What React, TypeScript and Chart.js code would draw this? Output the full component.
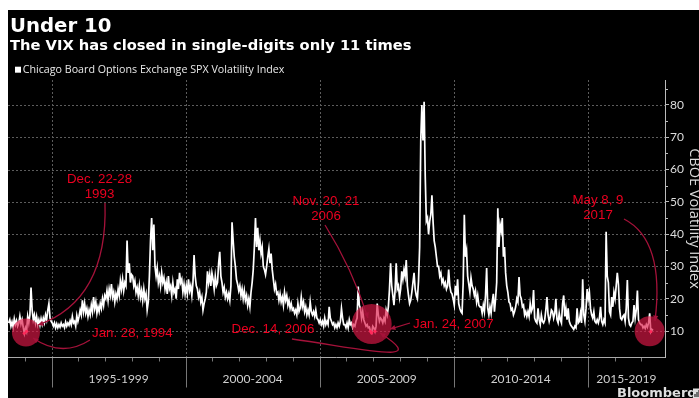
import React, { useEffect, useRef } from "react";
import { Chart, registerables } from "chart.js";

Chart.register(...registerables);

// ---- Data: VIX closes, sampled twice a month (high / low of each half-month, read off the chart) ----
// 1993 starts at the second half of May (half-month index 9)
const vix1993 = [12.5, 13.5, 11.5, 12.8, 11.2, 13.8, 12, 13.2, 11.5, 12.4, 14.6, 12.2, 13.5, 11.2, 9.3];
const vix1994 = [11, 9.9, 14.5, 12.5, 15, 23.5, 16.5, 13.5, 15, 12.5, 14.5, 12, 13.5, 11.8, 13.8, 12.2, 14, 12.6, 15, 13.5, 16.5, 18.5, 14, 13];
const vix1995 = [12.5, 11.5, 12.5, 11, 12.2, 11, 12, 11.2, 12.5, 11.5, 12, 11, 12.8, 11.5, 12.5, 11.8, 13.2, 12, 14.5, 12.5, 13, 11.5, 14.8, 13];
const vix1996 = [14.5, 16.5, 15, 19.5, 16, 18.5, 15.5, 17, 14.5, 16.5, 15, 18, 16, 20.5, 17, 19, 15.5, 17.5, 16, 18.5, 17, 20, 18, 21];
const vix1997 = [20, 22.5, 19.5, 23, 21, 24.5, 20.5, 22, 19, 21.5, 20, 23, 21, 25.5, 23, 26, 22.5, 25, 24, 38, 28, 31, 25, 27.5];
const vix1998 = [27, 24, 25.5, 22, 23.5, 21, 24, 20.5, 22.5, 19.5, 23, 20, 21.5, 16.5, 19, 27, 38, 45, 35, 43, 30, 27, 29.5, 25];
const vix1999 = [27, 24, 28, 25, 26.5, 23, 25, 21.5, 27, 23, 24, 21, 25, 22, 23, 20, 26, 23, 28, 25, 26, 22, 24.5, 21.5];
const vix2000 = [24, 21.5, 26, 22.5, 24, 21, 25, 33.5, 27, 24, 23, 20.5, 22, 19, 20.5, 16.5, 18.5, 20, 22, 28.5, 25, 27.5, 24, 28];
const vix2001 = [26, 23, 27, 24, 25, 31, 34.5, 27, 25, 22, 23.5, 20.5, 22, 20, 21.5, 19.5, 24, 43.7, 38, 33, 30, 26, 24.5, 22.5];
const vix2002 = [24, 21, 23, 20, 22.5, 19.5, 21, 18, 20, 17.5, 22, 25, 29, 36, 45, 36, 42, 35, 38, 34, 36, 30, 29, 27.5];
const vix2003 = [30, 33, 35.5, 31, 34, 29, 26, 23, 24.5, 21.5, 22, 19.5, 21.5, 19, 20.5, 18, 22, 19.5, 21, 18, 19.5, 17, 18.5, 16.5];
const vix2004 = [17, 15.5, 16.5, 15, 18.5, 16, 17, 20.5, 17.5, 19, 16, 17.5, 15, 16.5, 15, 19, 16, 15, 16, 14.5, 16.5, 14, 13.5, 12.5];
const vix2005 = [13.5, 12, 13, 11.5, 14, 12, 13, 12, 17.5, 14, 13, 12, 12.5, 11, 12, 11, 12.5, 11.5, 13, 17, 14, 12, 12, 11];
const vix2006 = [12.5, 11, 13.5, 12, 12.5, 11, 12, 11.5, 13, 14, 23.8, 18, 17, 14, 16, 13.5, 12.5, 11.5, 12, 11, 11.2, 9.9, 9.4, 11.5];
const vix2007 = [11, 9.9, 11.5, 18.5, 15, 13, 14, 13.5, 12.5, 14, 13, 16.5, 15, 17.5, 23, 31, 24, 21, 18, 22.5, 31, 23, 24, 20.5];
const vix2008 = [23, 28.5, 26, 29, 27, 32, 24, 21, 18.5, 19.5, 22, 25, 28, 23, 21, 20, 25.5, 36, 69, 80, 69, 81, 58, 44];
const vix2009 = [45, 40, 44, 46, 52, 44, 38, 36, 33, 30, 30, 27, 28, 25, 26, 24, 25, 23, 24, 29, 24, 22, 21.5, 20];
const vix2010 = [18, 24, 21, 26, 18.5, 17, 16, 15.5, 25, 46, 33, 35, 27, 24.5, 22, 26.5, 24, 23, 21, 22.5, 19, 21, 18, 17.5];
const vix2011 = [17.5, 15.5, 18, 16, 21, 29.5, 17, 15, 17.5, 15.5, 19, 21.5, 16, 20, 25, 48, 36, 43, 41, 45, 33, 36, 28, 24];
const vix2012 = [22, 19, 18.5, 16.5, 17, 15, 16, 17.5, 20, 19, 26.7, 21, 20, 17.5, 18, 15, 16, 14.5, 16, 14.5, 18.5, 16, 17, 22.7];
const vix2013 = [14, 13, 12.5, 17, 13.5, 12, 15, 13, 12.5, 13.5, 16.5, 20.5, 15, 13, 14.5, 16.5, 16, 14, 15.5, 20, 13.5, 12.5, 15.5, 13.5];
const vix2014 = [12.5, 18.5, 21, 14.5, 17, 13.5, 17, 13, 12, 11.5, 11, 10.5, 11.5, 11, 17, 12.5, 13, 15.5, 12.5, 26, 15, 13, 17, 23];
const vix2015 = [20, 22, 17, 15, 14, 16, 13, 12.5, 13.5, 12.5, 14, 17.5, 13, 12, 13.5, 12.5, 40.7, 27, 25, 16, 15, 20.5, 17.5, 22];
const vix2016 = [20, 24, 28, 24.5, 17, 14, 13.5, 14.5, 15, 13, 17, 25.8, 14, 12, 11.5, 12.5, 13, 18, 14, 16.5, 22.5, 13.5, 12.5, 12];
const vix2017 = [12, 11, 11.5, 10.8, 12, 11.2, 12.5, 15.5, 9.8, 10.5, 10.2];

const yearlySeries: [number, number[]][] = [
  [1993, vix1993], [1994, vix1994], [1995, vix1995], [1996, vix1996], [1997, vix1997],
  [1998, vix1998], [1999, vix1999], [2000, vix2000], [2001, vix2001], [2002, vix2002],
  [2003, vix2003], [2004, vix2004], [2005, vix2005], [2006, vix2006], [2007, vix2007],
  [2008, vix2008], [2009, vix2009], [2010, vix2010], [2011, vix2011], [2012, vix2012],
  [2013, vix2013], [2014, vix2014], [2015, vix2015], [2016, vix2016], [2017, vix2017],
];
const firstYearOffset = 9;
const halfMonthsPerYear = 24;

// Single-digit closes (year fraction, value)
const singleDigitX = [1993.979, 1994.0625, 2006.896, 2006.9375, 2007.0625, 2017.354];
const singleDigitY = [9.3, 9.9, 9.9, 9.4, 9.9, 9.8];

// Axis / tick labels
const periodLabels = ["1995-1999", "2000-2004", "2005-2009", "2010-2014", "2015-2019"];
const periodStarts = [1995, 2000, 2005, 2010, 2015];
const yTickValues = [10, 20, 30, 40, 50, 60, 70, 80];
const yMinorTicks = [15, 25, 35, 45, 55, 65, 75, 85];
const firstYearTick = 1994;
const lastYearTick = 2017;
const xMin = 1993.37;
const xMax = 2017.884;
const yMin = 1.95;
const yMax = 87.74;

const titleText = "Under 10";
const subtitleText = "The VIX has closed in single-digits only 11 times";
const legendText = "Chicago Board Options Exchange SPX Volatility Index";
const axisTitle = "CBOE Volatility Index";

// Annotations (data coordinates)
const circleX = [1994.04, 2006.94, 2017.31];
const circleY = [9.54, 12.17, 9.9];
const circleR = [14, 20, 15];

const noteTexts = [
  { lines: ["Dec. 22-28", "1993"], x: 1996.784, y: 55.93, align: "center" },
  { lines: ["Jan. 28, 1994"], x: 1996.504, y: 8.14, align: "left" },
  { lines: ["Nov. 20, 21", "2006"], x: 2005.235, y: 49.03, align: "center" },
  { lines: ["Dec. 14, 2006"], x: 2003.257, y: 9.38, align: "center" },
  { lines: ["Jan. 24, 2007"], x: 2008.481, y: 10.93, align: "left" },
  { lines: ["May 8, 9", "2017"], x: 2015.384, y: 49.34, align: "center" },
];

const noteArrows: number[][][] = [
  [[1996.989, 49.65], [1997.1, 19.6], [1994.489, 11.86]],
  [[1996.429, 7.21], [1995.384, 1.64], [1994.302, 7.83]],
  [[2005.198, 42.83], [2006.205, 29.51], [2006.802, 14.03]],
  [[2003.966, 7.52], [2006.877, 4.12], [2009.116, -0.53], [2007.25, 9.38]],
  [[2008.37, 12.48], [2007.623, 10.62]],
  [[2016.354, 44.69], [2017.884, 38.19], [2017.511, 13.1]],
];

function buildPoints() {
  const pts: { x: number; y: number }[] = [];
  for (const [yr, vals] of yearlySeries) {
    const offset = yr === yearlySeries[0][0] ? firstYearOffset : 0;
    vals.forEach((v, i) => pts.push({ x: yr + (offset + i + 0.5) / halfMonthsPerYear, y: v }));
  }
  return pts;
}

const RED_TEXT = "#ec0020";
const ARROW = "#a5123a";

function arrowHead(ctx: CanvasRenderingContext2D, fx: number, fy: number, tx: number, ty: number) {
  const ang = Math.atan2(ty - fy, tx - fx);
  const s = 6;
  ctx.beginPath();
  ctx.moveTo(tx, ty);
  ctx.lineTo(tx - s * Math.cos(ang - 0.45), ty - s * Math.sin(ang - 0.45));
  ctx.lineTo(tx - s * Math.cos(ang + 0.45), ty - s * Math.sin(ang + 0.45));
  ctx.closePath();
  ctx.fill();
}

const decorPlugin = {
  id: "decor",
  beforeDraw(chart: any) {
    const { ctx, width, height } = chart;
    ctx.save();
    ctx.fillStyle = "#000";
    ctx.fillRect(0, 0, width, height);
    ctx.restore();
  },
  beforeDatasetsDraw(chart: any) {
    const { ctx, chartArea: a, scales } = chart;
    const x = scales.x;
    const y = scales.y;
    ctx.save();
    ctx.lineWidth = 1;
    ctx.strokeStyle = "#5c5c5c";
    ctx.setLineDash([2, 2]);
    for (const v of yTickValues) {
      const py = Math.round(y.getPixelForValue(v)) + 0.5;
      ctx.beginPath();
      ctx.moveTo(a.left, py);
      ctx.lineTo(a.right, py);
      ctx.stroke();
    }
    for (const s of periodStarts) {
      const px = Math.round(x.getPixelForValue(s)) + 0.5;
      ctx.beginPath();
      ctx.moveTo(px, a.top);
      ctx.lineTo(px, a.bottom);
      ctx.stroke();
    }
    ctx.setLineDash([]);
    const by = Math.round(a.bottom) + 0.5;
    ctx.strokeStyle = "#777";
    for (const s of periodStarts) {
      const px = Math.round(x.getPixelForValue(s)) + 0.5;
      ctx.beginPath();
      ctx.moveTo(px, by);
      ctx.lineTo(px, by + 30);
      ctx.stroke();
    }
    for (let yr = firstYearTick; yr <= lastYearTick; yr++) {
      const px = Math.round(x.getPixelForValue(yr)) + 0.5;
      ctx.beginPath();
      ctx.moveTo(px, by);
      ctx.lineTo(px, by + 4);
      ctx.stroke();
    }
    ctx.strokeStyle = "#aaa";
    ctx.beginPath();
    ctx.moveTo(a.left, by);
    ctx.lineTo(a.right, by);
    ctx.stroke();
    ctx.strokeStyle = "#bbb";
    const rx = Math.round(a.right) + 0.5;
    for (const v of yMinorTicks) {
      const py = Math.round(y.getPixelForValue(v)) + 0.5;
      if (py < a.top) continue;
      ctx.beginPath();
      ctx.moveTo(rx, py);
      ctx.lineTo(rx + 2.5, py);
      ctx.stroke();
    }
    ctx.fillStyle = "#cfcfcf";
    ctx.font = "12px Lato";
    ctx.textAlign = "center";
    ctx.textBaseline = "alphabetic";
    periodStarts.forEach((s, i) => {
      const l = Math.max(s, xMin);
      const r = Math.min(s + 5, xMax);
      ctx.fillText(periodLabels[i], (x.getPixelForValue(l) + x.getPixelForValue(r)) / 2, a.bottom + 26);
    });
    ctx.restore();
  },
  afterDatasetsDraw(chart: any) {
    const { ctx, scales } = chart;
    const x = scales.x;
    const y = scales.y;
    const P = (p: number[]) => [x.getPixelForValue(p[0]), y.getPixelForValue(p[1])];
    ctx.save();
    // circles
    ctx.fillStyle = "rgba(222, 24, 72, 0.66)";
    circleX.forEach((cx, i) => {
      ctx.beginPath();
      ctx.arc(x.getPixelForValue(cx), y.getPixelForValue(circleY[i]), circleR[i], 0, Math.PI * 2);
      ctx.fill();
    });
    ctx.fillStyle = "#ff2a5a";
    singleDigitX.forEach((dx, i) => {
      ctx.beginPath();
      ctx.arc(x.getPixelForValue(dx), y.getPixelForValue(singleDigitY[i]), 1.6, 0, Math.PI * 2);
      ctx.fill();
    });
    // arrows
    ctx.strokeStyle = ARROW;
    ctx.fillStyle = ARROW;
    ctx.lineWidth = 1.3;
    for (const arr of noteArrows) {
      const pts = arr.map(P);
      ctx.beginPath();
      ctx.moveTo(pts[0][0], pts[0][1]);
      if (pts.length === 2) ctx.lineTo(pts[1][0], pts[1][1]);
      else if (pts.length === 3) ctx.quadraticCurveTo(pts[1][0], pts[1][1], pts[2][0], pts[2][1]);
      else ctx.bezierCurveTo(pts[1][0], pts[1][1], pts[2][0], pts[2][1], pts[3][0], pts[3][1]);
      ctx.stroke();
      const e = pts[pts.length - 1];
      const f = pts[pts.length - 2];
      arrowHead(ctx, f[0], f[1], e[0], e[1]);
    }
    // texts
    ctx.fillStyle = RED_TEXT;
    ctx.font = '13.3px "Liberation Sans"';
    ctx.textBaseline = "alphabetic";
    for (const n of noteTexts) {
      ctx.textAlign = n.align as CanvasTextAlign;
      const px = x.getPixelForValue(n.x);
      const py = y.getPixelForValue(n.y);
      n.lines.forEach((ln, i) => ctx.fillText(ln, px, py + i * 15.3));
    }
    ctx.restore();
  },
  afterDraw(chart: any) {
    const { ctx, chartArea: a } = chart;
    ctx.save();
    ctx.fillStyle = "#fff";
    ctx.textAlign = "left";
    ctx.textBaseline = "alphabetic";
    ctx.font = 'bold 19.7px "DejaVu Sans"';
    ctx.fillText(titleText, 2, 21.7);
    ctx.font = 'bold 14.7px "DejaVu Sans"';
    ctx.fillText(subtitleText, 2, 39.6);
    ctx.fillRect(7, 56.7, 6, 6);
    ctx.fillStyle = "#e8e8e8";
    ctx.font = '10.7px "Open Sans"';
    ctx.fillText(legendText, 14.7, 63);
    // axis title
    ctx.save();
    ctx.translate(682, (a.top + a.bottom) / 2);
    ctx.rotate(Math.PI / 2);
    ctx.textAlign = "center";
    ctx.fillStyle = "#dcdcdc";
    ctx.font = '14.5px "Open Sans"';
    ctx.fillText(axisTitle, 0, 0);
    ctx.restore();
    // Bloomberg mark
    ctx.fillStyle = "#dedede";
    ctx.font = 'bold 13px "DejaVu Sans"';
    ctx.fillText("Bloomberg", 609, 386.5);
    ctx.fillRect(685, 378.5, 7, 10);
    ctx.fillStyle = "#000";
    ctx.fillRect(686.5, 384, 1, 3);
    ctx.fillRect(688.5, 382, 1, 5);
    ctx.fillRect(690.5, 380, 1, 7);
    ctx.restore();
  },
};

export default function App() {
  const ref = useRef<HTMLCanvasElement | null>(null);
  useEffect(() => {
    if (!ref.current) return;
    const chart = new Chart(ref.current, {
      type: "line",
      data: {
        datasets: [
          {
            data: buildPoints(),
            borderColor: "#ffffff",
            borderWidth: 1.7,
            pointRadius: 0,
            tension: 0,
            fill: false,
          },
        ],
      },
      options: {
        animation: false,
        responsive: false,
        maintainAspectRatio: false,
        devicePixelRatio: 1,
        parsing: false,
        layout: { padding: { top: 70, bottom: 41, left: 0, right: 0 } },
        plugins: { legend: { display: false }, tooltip: { enabled: false }, title: { display: false } },
        scales: {
          x: { type: "linear", min: xMin, max: xMax, display: false },
          y: {
            type: "linear",
            position: "right",
            min: yMin,
            max: yMax,
            afterBuildTicks: (s: any) => {
              s.ticks = yTickValues.map((v) => ({ value: v }));
            },
            afterFit: (s: any) => {
              s.width = 34;
            },
            grid: { display: true, drawOnChartArea: false, drawTicks: true, tickLength: 4, color: "#bbb" },
            border: { display: true, color: "#bbb" },
            ticks: { color: "#dcdcdc", font: { family: "Lato", size: 12 }, padding: 1, autoSkip: false },
          },
        },
      } as any,
      plugins: [decorPlugin],
    });
    return () => chart.destroy();
  }, []);
  return (
    <div style={{ position: "absolute", left: 8, top: 10, width: 691, height: 388, background: "#000", overflow: "hidden" }}>
      <canvas ref={ref} width={691} height={388} style={{ display: "block" }} />
    </div>
  );
}
